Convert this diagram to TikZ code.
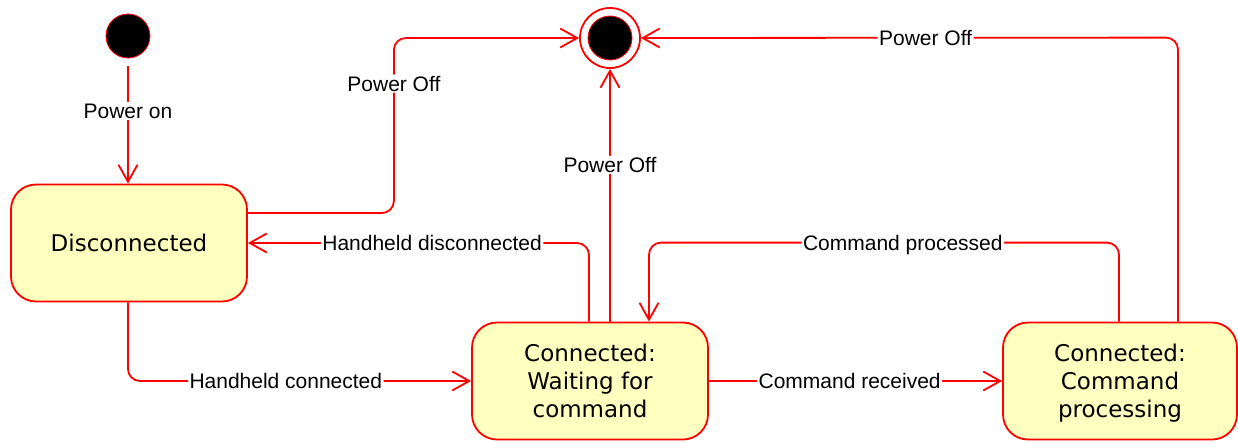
\documentclass[tikz,border=0pt]{standalone}
\usepackage{fontspec}
\newfontfamily\statefont{DejaVu Sans}
\newfontfamily\lblfont{Liberation Sans}
\usetikzlibrary{arrows.meta}
\definecolor{lnred}{RGB}{255,0,0}
\definecolor{stfill}{RGB}{255,255,192}
\tikzset{
  statebox/.style={draw=lnred, fill=stfill, line width=1.8pt, rounded corners=25pt,
    minimum width=236pt, minimum height=117pt, align=center, inner sep=0pt, text depth=0pt,
    font=\statefont\fontsize{23}{28}\selectfont},
  conn/.style={draw=lnred, line width=1.8pt, rounded corners=12pt,
    -{Straight Barb[length=17pt,width=19pt,line width=1.8pt]}},
  lbl/.style={fill=white, inner sep=1.5pt, text=black, text height=15pt, text depth=0pt,
    font=\lblfont\fontsize{21}{24}\selectfont},
}
\begin{document}
\begin{tikzpicture}[x=1pt,y=-1pt]
\useasboundingbox (0,0) rectangle (1238,442);
% initial and final
\node[circle, fill=black, draw=lnred, line width=0.8pt, minimum size=44pt, inner sep=0pt] (init) at (128,36) {};
\node[circle, fill=white, draw=lnred, line width=1.8pt, minimum size=60pt, inner sep=0pt] (final) at (610,38) {};
\node[circle, fill=black, draw=lnred, line width=0.8pt, minimum size=44pt, inner sep=0pt] (finalin) at (610,38) {};
% states
\node[statebox] (disc) at (129,243) {Disconnected};
\node[statebox] (wait) at (590,381) {Connected:\\Waiting for\\command};
\node[statebox, minimum width=234pt] (proc) at (1120,381) {Connected:\\Command\\processing};
% connectors
\draw[conn, shorten <=8pt] (init) -- node[lbl, pos=0.42] {Power on} (disc.north -| init);
\draw[conn] ([yshift=30pt]disc.east) -- ++(146,0) -- node[lbl, pos=0.74] {Power Off} ++(0,-175) -- (final);
\draw[conn] ([xshift=20pt]wait.north) -- node[lbl, pos=0.62] {Power Off} (final);
\draw[conn] ([xshift=-1pt]wait.north) |- node[lbl, pos=0.73] {Handheld disconnected} (disc.east);
\draw[conn] ([xshift=-1pt]disc.south) |- node[lbl, pos=0.73] {Handheld connected} (wait.west);
\draw[conn] (wait.east) -- node[lbl, pos=0.48] {Command received} (proc.west);
\draw[conn] ([xshift=-1pt]proc.north) -- ++(0,-79) -| node[lbl, pos=0.23] {Command processed} ([xshift=59pt]wait.north);
\draw[conn] ([xshift=58pt]proc.north) -- ++(0,-284) -- node[lbl, pos=0.47] {Power Off} (final);
\end{tikzpicture}
\end{document}
